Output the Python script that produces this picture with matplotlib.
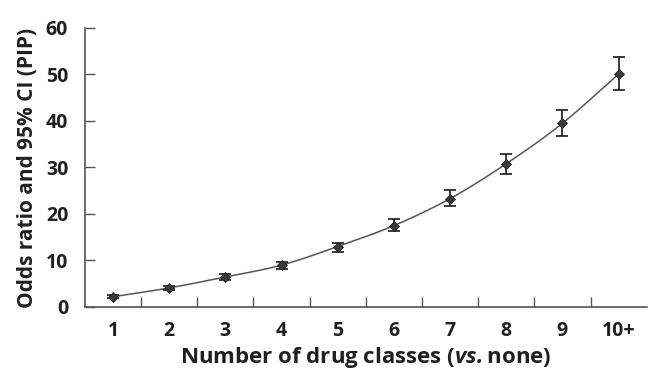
import numpy as np
import matplotlib.pyplot as plt

# %% data
categories = ['1', '2', '3', '4', '5', '6', '7', '8', '9', '10+']
odds_ratio = [2.2, 4.1, 6.45, 9.0, 13.0, 17.5, 23.3, 30.8, 39.5, 50.1]
ci_low = [1.9, 3.7, 5.9, 8.2, 11.9, 16.4, 21.7, 28.7, 36.8, 46.7]
ci_high = [2.5, 4.5, 7.0, 9.7, 13.8, 18.9, 25.2, 32.8, 42.4, 53.7]
yticks = [0, 10, 20, 30, 40, 50, 60]

plt.rcParams['font.family'] = ['Open Sans', 'DejaVu Sans']
plt.rcParams['mathtext.fontset'] = 'custom'
plt.rcParams['mathtext.bfit'] = 'Open Sans:italic:bold'
plt.rcParams['mathtext.it'] = 'Open Sans:italic:bold'
txt = '#231f20'
axcol = '#555555'


# %% smooth curve through the points (Catmull-Rom, like Excel's smoothed line)
def smooth(x, y, n=20):
    x = np.asarray(x, float)
    y = np.asarray(y, float)
    px = np.concatenate([[2*x[0]-x[1]], x, [2*x[-1]-x[-2]]])
    py = np.concatenate([[2*y[0]-y[1]], y, [2*y[-1]-y[-2]]])
    xs, ys = [], []
    t = np.linspace(0, 1, n)
    for i in range(1, len(px)-2):
        for p, out in ((px, xs), (py, ys)):
            p0, p1, p2, p3 = p[i-1], p[i], p[i+1], p[i+2]
            out.extend(0.5*((2*p1) + (-p0+p2)*t + (2*p0-5*p1+4*p2-p3)*t**2
                            + (-p0+3*p1-3*p2+p3)*t**3))
    return np.array(xs), np.array(ys)


# %% plot
fig = plt.figure(figsize=(6.48, 3.73), dpi=100)
ax = fig.add_axes([0.131, 0.177, 0.867, 0.748])

x = np.arange(len(categories))
sx, sy = smooth(x, odds_ratio)
ax.plot(sx, sy, color='#555555', linewidth=1.1, zorder=2)

err = [np.array(odds_ratio)-np.array(ci_low), np.array(ci_high)-np.array(odds_ratio)]
ax.errorbar(x, odds_ratio, yerr=err, fmt='none', ecolor='#1a1a1a',
            elinewidth=1.2, capsize=4, capthick=1.2, zorder=3)
ax.plot(x, odds_ratio, linestyle='none', marker='D', markersize=5,
        color='#3a3a3a', markeredgecolor='#222222', markeredgewidth=0.6, zorder=4)

ax.set_xlim(-0.5, 9.5)
ax.set_ylim(0, 60)
ax.set_yticks(yticks)
ax.set_xticks(x)
ax.set_xticklabels(categories)
ax.set_xticks(x[:-1] + 0.5, minor=True)

ax.tick_params(axis='x', which='major', length=0, pad=10, labelsize=14, labelcolor=txt)
ax.tick_params(axis='x', which='minor', direction='in', length=7, width=1, color=axcol)
ax.tick_params(axis='y', direction='in', length=7, width=1, color=axcol,
               pad=12, labelsize=14, labelcolor=txt)
for lab in ax.get_xticklabels() + ax.get_yticklabels():
    lab.set_fontweight('bold')

for s in ['top', 'right']:
    ax.spines[s].set_visible(False)
for s in ['left', 'bottom']:
    ax.spines[s].set_color(axcol)
    ax.spines[s].set_linewidth(1.2)

ax.set_ylabel('Odds ratio and 95% CI (PIP)', fontsize=15, fontweight='bold',
              color=txt, labelpad=6)
ax.set_xlabel(r'Number of drug classes ($\mathbfit{vs.}$none)', fontsize=16,
              fontweight='bold', color=txt, labelpad=3)

fig.savefig('out.png', dpi=100)
